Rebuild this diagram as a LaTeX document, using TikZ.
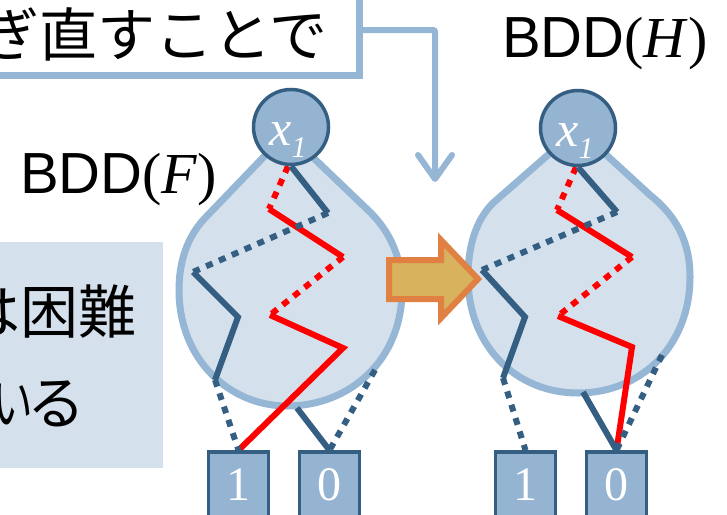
\documentclass[tikz,border=0pt]{standalone}
\usepackage{fontspec}
\usepackage{graphicx}
\setmainfont{Liberation Serif}
\newfontfamily\sansfnt{Liberation Sans}
\newfontfamily\jpfnt{Noto Sans CJK JP}
\newfontfamily\jpfntp[RawFeature=+palt]{Noto Sans CJK JP}
\usetikzlibrary{arrows.meta}

\definecolor{blobfill}{HTML}{D4E1ED}
\definecolor{blobline}{HTML}{95B6D4}
\definecolor{darkedge}{HTML}{355F82}
\definecolor{nodefill}{HTML}{95B4D2}
\definecolor{redpath}{HTML}{FF0000}
\definecolor{arrowfill}{HTML}{D9B25D}
\definecolor{arrowline}{HTML}{E08042}
\definecolor{notefill}{HTML}{D4E1EC}

\pgfdeclarelayer{blobs}
\pgfdeclarelayer{edges}
\pgfsetlayers{blobs,edges,main}

\tikzset{
  blob/.style={draw=blobline, fill=blobfill, line width=7pt, line join=round},
  varnode/.style={circle, draw=darkedge, fill=nodefill, line width=3.5pt,
    minimum size=75pt, inner sep=0pt},
  varlabel/.style={text=white, inner sep=0pt, anchor=base,
    font=\fontsize{50}{50}\selectfont\itshape},
  termnode/.style={rectangle, draw=darkedge, fill=nodefill, line width=3.5pt,
    minimum width=60pt, minimum height=66pt, inner sep=0pt,
    text=white, font=\fontsize{48}{48}\selectfont},
  solidedge/.style={draw=darkedge, line width=6pt, line join=miter},
  dotedge/.style={draw=darkedge, line width=6pt, dash pattern=on 7pt off 7pt},
  redsolid/.style={draw=redpath, line width=6pt, line join=miter},
  reddot/.style={draw=redpath, line width=6pt, dash pattern=on 7pt off 7pt},
  bddtitle/.style={inner sep=0pt, anchor=base west,
    font=\fontsize{58}{58}\selectfont},
  jptext/.style={inner sep=0pt, font=\jpfnt\fontsize{58}{60}\selectfont},
  connector/.style={draw=blobline, line width=6pt, rounded corners=2pt,
    -{Straight Barb[length=24pt,width=34pt,line cap=round,line join=round]}},
}

\begin{document}
\begin{tikzpicture}[x=1pt, y=-1pt]
\useasboundingbox (0,0) rectangle (727,514);

% explanatory box on the upper left, joined to the right-hand diagram
\node[rectangle, draw=blobline, fill=white, line width=7pt,
      minimum width=374pt, minimum height=90pt] (topbox) at (172,30) {};
\node[jptext, anchor=east] (toptext) at (328,34) {ぎ直すことで};
\coordinate (bendtip) at (435,182);
\draw[connector] (topbox.east) -| (bendtip);

% shaded note on the left
\node[rectangle, fill=notefill, minimum width=173pt, minimum height=226pt,
      inner sep=0pt] (note) at (76.5,355) {};
\node[jptext, anchor=east] (noteA) at (137,312) {は困難};
\node[inner sep=0pt, font=\jpfntp\fontsize{58}{60}\selectfont, anchor=east]
      (noteB) at (82,404) {\scalebox{0.7}[1]{い}\kern-2pt る};

% titles
\node[bddtitle] (titleF) at (20,193) {{\sansfnt BDD}(\textit{F})};
\node[bddtitle] (titleH) at (502,57) {{\sansfnt BDD}(\textit{H})};

\begin{pgfonlayer}{blobs}
% body of BDD(F)
\draw[blob] (280,140) -- (205,218)
  .. controls (187,237) and (179,262) .. (179,290)
  .. controls (179,360) and (230,406) .. (287,406)
  .. controls (350,406) and (402,360) .. (402,290)
  .. controls (402,255) and (388,230) .. (370,212)
  -- (300,145) -- cycle;
% body of BDD(H)
\draw[blob] (565,140) -- (493,203)
  .. controls (475,221) and (468,248) .. (468,277)
  .. controls (468,345) and (515,393) .. (578,393)
  .. controls (642,393) and (690,345) .. (690,277)
  .. controls (690,240) and (675,215) .. (650,195)
  -- (590,140) -- cycle;
% block arrow between the two diagrams
\draw[draw=arrowline, fill=arrowfill, line width=6pt, line join=miter]
  (389,260) -- (441,260) -- (441,240) -- (478,279) -- (441,318)
  -- (441,299) -- (389,299) -- cycle;
\end{pgfonlayer}

% variable and terminal nodes
\node[varnode] (xa) at (291,127) {};
\node[varnode] (xb) at (578,128) {};
\node[termnode] (oneA)  at (238.5,485) {1};
\node[termnode] (zeroA) at (329.5,485) {0};
\node[termnode] (oneB)  at (525.5,485) {1};
\node[termnode] (zeroB) at (616.5,485) {0};

% variable labels
\node[varlabel] (labA) at ([xshift=-3pt,yshift=-18pt]xa.center)
  {x\raisebox{-12pt}{\fontsize{30}{30}\selectfont 1}};
\node[varlabel] (labB) at ([xshift=-3pt,yshift=-18pt]xb.center)
  {x\raisebox{-12pt}{\fontsize{30}{30}\selectfont 1}};

% bend points, left diagram
\coordinate (a1) at (328,213);
\coordinate (a2) at (193,272);
\coordinate (a3) at (238,317);
\coordinate (a4) at (215,380);
\coordinate (a5) at (375,370);
\coordinate (a6) at (297,408);
\coordinate (r1) at (269,209);
\coordinate (r2) at (343,257);
\coordinate (r3) at (270,315);
\coordinate (r4) at (343,348);

% bend points, right diagram
\coordinate (b1) at (617,212);
\coordinate (b2) at (482,270);
\coordinate (b3) at (525,317);
\coordinate (b4) at (503,378);
\coordinate (b5) at (662,355);
\coordinate (b6) at (583,392);
\coordinate (s1) at (557,210);
\coordinate (s2) at (632,257);
\coordinate (s3) at (558,316);
\coordinate (s4) at (632,347);

\begin{pgfonlayer}{edges}
% highlighted path, left diagram
\draw[reddot] ([xshift=-3pt]xa.south) -- (r1);
\draw[redsolid] (r1) -- (r2);
\draw[reddot] (r2) -- (r3);
\draw[redsolid] (r3) -- (r4) -- (oneA.north);
% highlighted path, right diagram
\draw[reddot] ([xshift=-2pt]xb.south) -- (s1);
\draw[redsolid] (s1) -- (s2);
\draw[reddot] (s2) -- (s3);
\draw[redsolid] (s3) -- (s4) -- (zeroB.north);
% ordinary edges, left diagram
\draw[solidedge] (xa.south) -- (a1);
\draw[dotedge] (a1) -- (a2);
\draw[solidedge] (a2) -- (a3) -- (a4);
\draw[dotedge] (a4) -- (oneA.north);
\draw[dotedge] (a5) -- (zeroA.north);
\draw[solidedge] (a6) -- (zeroA.north);
% ordinary edges, right diagram
\draw[solidedge] (xb.south) -- (b1);
\draw[dotedge] (b1) -- (b2);
\draw[solidedge] (b2) -- (b3) -- (b4);
\draw[dotedge] (b4) -- (oneB.north);
\draw[dotedge] (b5) -- (zeroB.north);
\draw[solidedge] (b6) -- (zeroB.north);
\end{pgfonlayer}
\end{tikzpicture}
\end{document}
